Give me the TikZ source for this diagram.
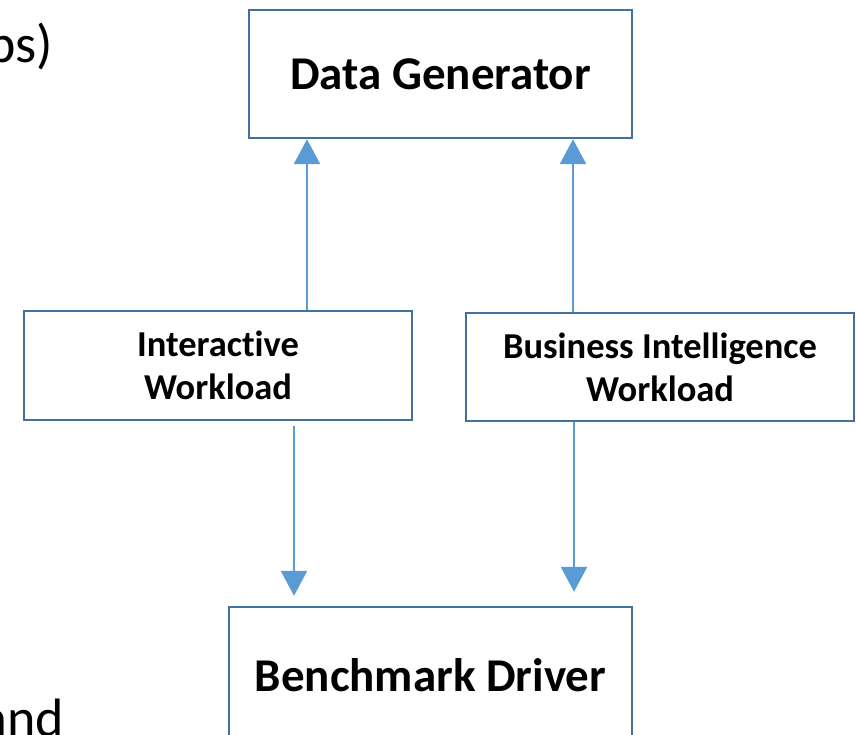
\documentclass[tikz,border=0pt]{standalone}
\usepackage{fontspec}
\setmainfont[Ligatures=NoCommon]{Carlito}
\usetikzlibrary{arrows.meta}
\definecolor{boxc}{RGB}{65,113,156}
\definecolor{arrc}{RGB}{91,155,213}
\begin{document}
\begin{tikzpicture}[x=1pt,y=-1pt,
  box/.style={draw=boxc,line width=2.4pt,fill=white,inner sep=0pt,align=center},
  bigtxt/.style={font=\bfseries\fontsize{47}{56}\selectfont},
  smalltxt/.style={font=\bfseries\fontsize{36.5}{43}\selectfont},
  side/.style={inner sep=0pt,font=\fontsize{54}{64}\selectfont},
  conn/.style={draw=arrc,line width=2.6pt,-{Triangle[width=26pt,length=25pt]}}]
\useasboundingbox (0,0) rectangle (856,735);
\clip (0,0) rectangle (856,735);
\node[box,bigtxt,minimum width=383pt,minimum height=128pt] (dg) at (440.5,74) {Data Generator};
\node[box,smalltxt,minimum width=388pt,minimum height=109pt] (iw) at (218,365.5) {Interactive\\Workload};
\node[box,smalltxt,minimum width=388pt,minimum height=108pt] (bi) at (660,367) {Business Intelligence\\Workload};
\node[box,bigtxt,minimum width=403pt,minimum height=136pt] (bd) at (430.5,675) {Benchmark Driver};
\node[side,anchor=base east] (t1) at (53,63) {ps)};
\node[side,anchor=base east] (t2) at (64,736) {and};
\coordinate (c1) at (307,0);
\coordinate (c2) at (573,0);
\coordinate (c3) at (294,0);
\coordinate (c4) at (574,0);
\draw[conn] (iw.north -| c1) -- (dg.south -| c1);
\draw[conn] (bi.north -| c2) -- (dg.south -| c2);
\draw[conn,shorten <=5pt,shorten >=10pt] (iw.south -| c3) -- (bd.north -| c3);
\draw[conn,shorten >=14pt] (bi.south -| c4) -- (bd.north -| c4);
\end{tikzpicture}
\end{document}
